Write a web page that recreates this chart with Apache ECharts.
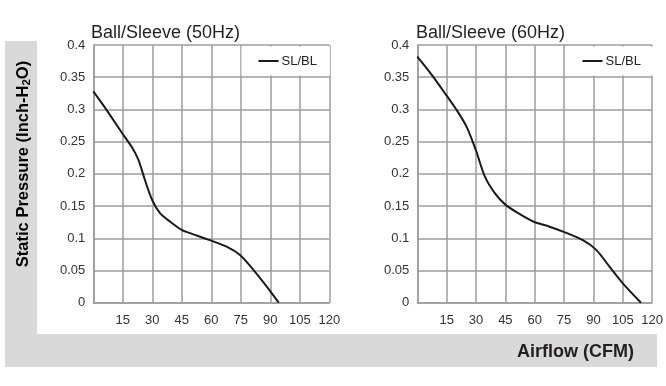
<!DOCTYPE html>
<html><head><meta charset="utf-8">
<script src="https://cdn.jsdelivr.net/npm/echarts@6/dist/echarts.min.js"></script>
<style>html,body{margin:0;padding:0;background:#fff}#c{width:666px;height:386px}</style>
</head><body><div id="c"></div>
<script>
const titles = ['Ball/Sleeve (50Hz)', 'Ball/Sleeve (60Hz)'];
const seriesName = 'SL/BL';
const airflow50 = [0, 6.8, 14.7, 19.5, 22.9, 26.3, 30, 33.9, 39, 44.9, 49.2, 58.5, 67.8, 74.6, 81.4, 88.2, 94.3];
const pressure50 = [0.328, 0.299, 0.263, 0.242, 0.222, 0.19, 0.159, 0.139, 0.126, 0.113, 0.108, 0.098, 0.087, 0.074, 0.051, 0.025, 0];
const airflow60 = [0, 7.3, 14.6, 20.1, 25.2, 29.9, 34.5, 39.6, 44.7, 51.5, 59.2, 67.6, 74.8, 84.6, 91.4, 98.2, 105, 114.3];
const pressure60 = [0.382, 0.354, 0.323, 0.299, 0.273, 0.237, 0.196, 0.170, 0.153, 0.139, 0.126, 0.118, 0.110, 0.097, 0.082, 0.056, 0.030, 0];
const xTicks = [0, 15, 30, 45, 60, 75, 90, 105, 120];
const yTicks = [0, 0.05, 0.1, 0.15, 0.2, 0.25, 0.3, 0.35, 0.4];
const yTitle = 'Static Pressure (Inch-H2O)';
const xTitle = 'Airflow (CFM)';

const FONT = '"Liberation Sans", Arial, sans-serif';
const GRID = '#9c9c9c';
const GRAY = '#d9d9da';
const grids = [
  {left: 93.3, right: 336.7, top: 45, bottom: 83.3},
  {left: 417.3, right: 13.3, top: 45, bottom: 83.3}
];
function xAxis(i){return {type:'value', gridIndex:i, min:xTicks[0], max:xTicks[xTicks.length-1], interval:xTicks[1]-xTicks[0],
  axisLine:{show:true, lineStyle:{color:GRID, width:1.5}}, axisTick:{show:false},
  splitLine:{show:true, lineStyle:{color:GRID, width:1.5}},
  axisLabel:{fontFamily:FONT, fontSize:13, color:'#333', margin:11, formatter:v=> v===0?'':String(v)}};}
function yAxis(i){return {type:'value', gridIndex:i, min:yTicks[0], max:yTicks[yTicks.length-1], interval:yTicks[1]-yTicks[0],
  axisLine:{show:true, lineStyle:{color:GRID, width:1.5}}, axisTick:{show:false},
  splitLine:{show:true, lineStyle:{color:GRID, width:1.5}},
  axisLabel:{fontFamily:FONT, fontSize:13, color:'#333', margin:8, formatter:v=> String(+v.toFixed(2))}};}
function legend(leftPx){return {data:[seriesName], left:leftPx, top:46.5, orient:'horizontal',
  backgroundColor:'#fff', padding:[8,13,8,17], icon:'rect', itemWidth:20, itemHeight:2, itemGap:5,
  textStyle:{fontFamily:FONT, fontSize:13, color:'#222', padding:[0,0,0,-2]}, selectedMode:false};}
function zip(a,b){return a.map((v,i)=>[v,b[i]]);}

const option = {
  animation:false,
  backgroundColor:'#fff',
  title:[
    {text:titles[0], left:91, top:24, padding:0, textStyle:{fontFamily:FONT, fontSize:18, fontWeight:'normal', color:'#231f20'}},
    {text:titles[1], left:416, top:24, padding:0, textStyle:{fontFamily:FONT, fontSize:18, fontWeight:'normal', color:'#231f20'}}
  ],
  grid:grids,
  xAxis:[xAxis(0), xAxis(1)],
  yAxis:[yAxis(0), yAxis(1)],
  legend:[legend(241.5), legend(565.5)],
  graphic:[
    {type:'rect', z:-10, shape:{x:5, y:41, width:32, height:326}, style:{fill:GRAY}, silent:true},
    {type:'rect', z:-10, shape:{x:5, y:334, width:652, height:33}, style:{fill:GRAY}, silent:true},
    {type:'text', x:23, y:164, rotation:Math.PI/2, silent:true,
      style:{text:'{a|Static Pressure (Inch-H}{s|2}{a|O)}', align:'center', verticalAlign:'middle',
        rich:{a:{fontFamily:FONT, fontSize:16.5, fontWeight:'bold', color:'#231f20', lineHeight:20},
              s:{fontFamily:FONT, fontSize:11.5, fontWeight:'bold', color:'#231f20', lineHeight:10, verticalAlign:'bottom'}}}},
    {type:'text', x:634, y:352.5, silent:true,
      style:{text:xTitle, align:'right', verticalAlign:'middle', fontFamily:FONT, fontSize:18, fontWeight:'bold', fill:'#231f20'}}
  ],
  series:[
    {name:seriesName, type:'line', xAxisIndex:0, yAxisIndex:0, data:zip(airflow50, pressure50), smooth:0.3,
      symbol:'none', lineStyle:{color:'#1a1a1a', width:2}, itemStyle:{color:'#1a1a1a'}},
    {name:seriesName, type:'line', xAxisIndex:1, yAxisIndex:1, data:zip(airflow60, pressure60), smooth:0.3,
      symbol:'none', lineStyle:{color:'#1a1a1a', width:2}, itemStyle:{color:'#1a1a1a'}}
  ]
};
const chart = echarts.init(document.getElementById('c'), null, {renderer:'canvas'});
chart.setOption(option);
</script></body></html>
